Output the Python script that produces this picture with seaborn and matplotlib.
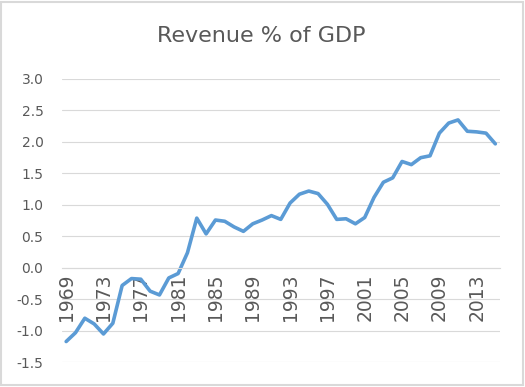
import matplotlib
matplotlib.use("Agg")
import matplotlib.pyplot as plt
from matplotlib.patches import Rectangle
import pandas as pd
import seaborn as sns

# revenue as % of GDP
years = list(range(1969, 2016))
revenue = [-1.17, -1.03, -0.80, -0.89, -1.05, -0.88, -0.28, -0.17, -0.18, -0.37,
           -0.43, -0.16, -0.09, 0.24, 0.79, 0.54, 0.76, 0.74, 0.65, 0.58,
           0.70, 0.76, 0.83, 0.77, 1.03, 1.17, 1.22, 1.18, 1.01, 0.77,
           0.78, 0.70, 0.80, 1.12, 1.36, 1.43, 1.69, 1.64, 1.75, 1.78,
           2.14, 2.30, 2.35, 2.17, 2.16, 2.14, 1.97]
tick_years = list(range(1969, 2016, 4))
y_ticks = [-1.5, -1.0, -0.5, 0.0, 0.5, 1.0, 1.5, 2.0, 2.5, 3.0]

df = pd.DataFrame({"year": years, "revenue": revenue})

sns.set_style("white")
plt.rcParams["font.family"] = ["DejaVu Sans"]
txt = "#595959"

fig, ax = plt.subplots(figsize=(5.25, 3.87), dpi=100)
fig.subplots_adjust(left=61.5 / 525, right=500 / 525, top=1 - 79 / 387, bottom=1 - 362.3 / 387)

sns.lineplot(data=df, x="year", y="revenue", ax=ax, color="#5B9BD5", linewidth=2.6)

# x axis sits on the zero line, like Excel
for s in ["left", "right", "top"]:
    ax.spines[s].set_visible(False)
ax.spines["bottom"].set_position(("data", 0))
ax.spines["bottom"].set_color("#d9d9d9")
ax.spines["bottom"].set_linewidth(0.8)

ax.set_xlim(1968.5, 2015.5)
ax.set_ylim(-1.5, 3.0)
ax.set_yticks(y_ticks)
ax.set_yticklabels([f"{v:.1f}" for v in y_ticks])
ax.set_xticks(tick_years)
ax.set_xticklabels([str(y) for y in tick_years])
ax.grid(axis="y", color="#d9d9d9", linewidth=0.8)
ax.set_axisbelow(True)
ax.set_xlabel("")
ax.set_ylabel("")

ax.tick_params(axis="x", length=0, pad=4, labelsize=13.5, labelcolor=txt, labelrotation=90)
ax.tick_params(axis="y", length=0, pad=13, labelsize=10, labelcolor=txt)

fig.text(261 / 525, 1 - 36 / 387, "Revenue % of GDP", ha="center", va="center",
         fontsize=16, color=txt)

fig.add_artist(Rectangle((0.002, 0.004), 0.995, 0.992, transform=fig.transFigure,
                         fill=False, edgecolor="#d9d9d9", linewidth=1.5))

fig.savefig("out.png", dpi=100)
